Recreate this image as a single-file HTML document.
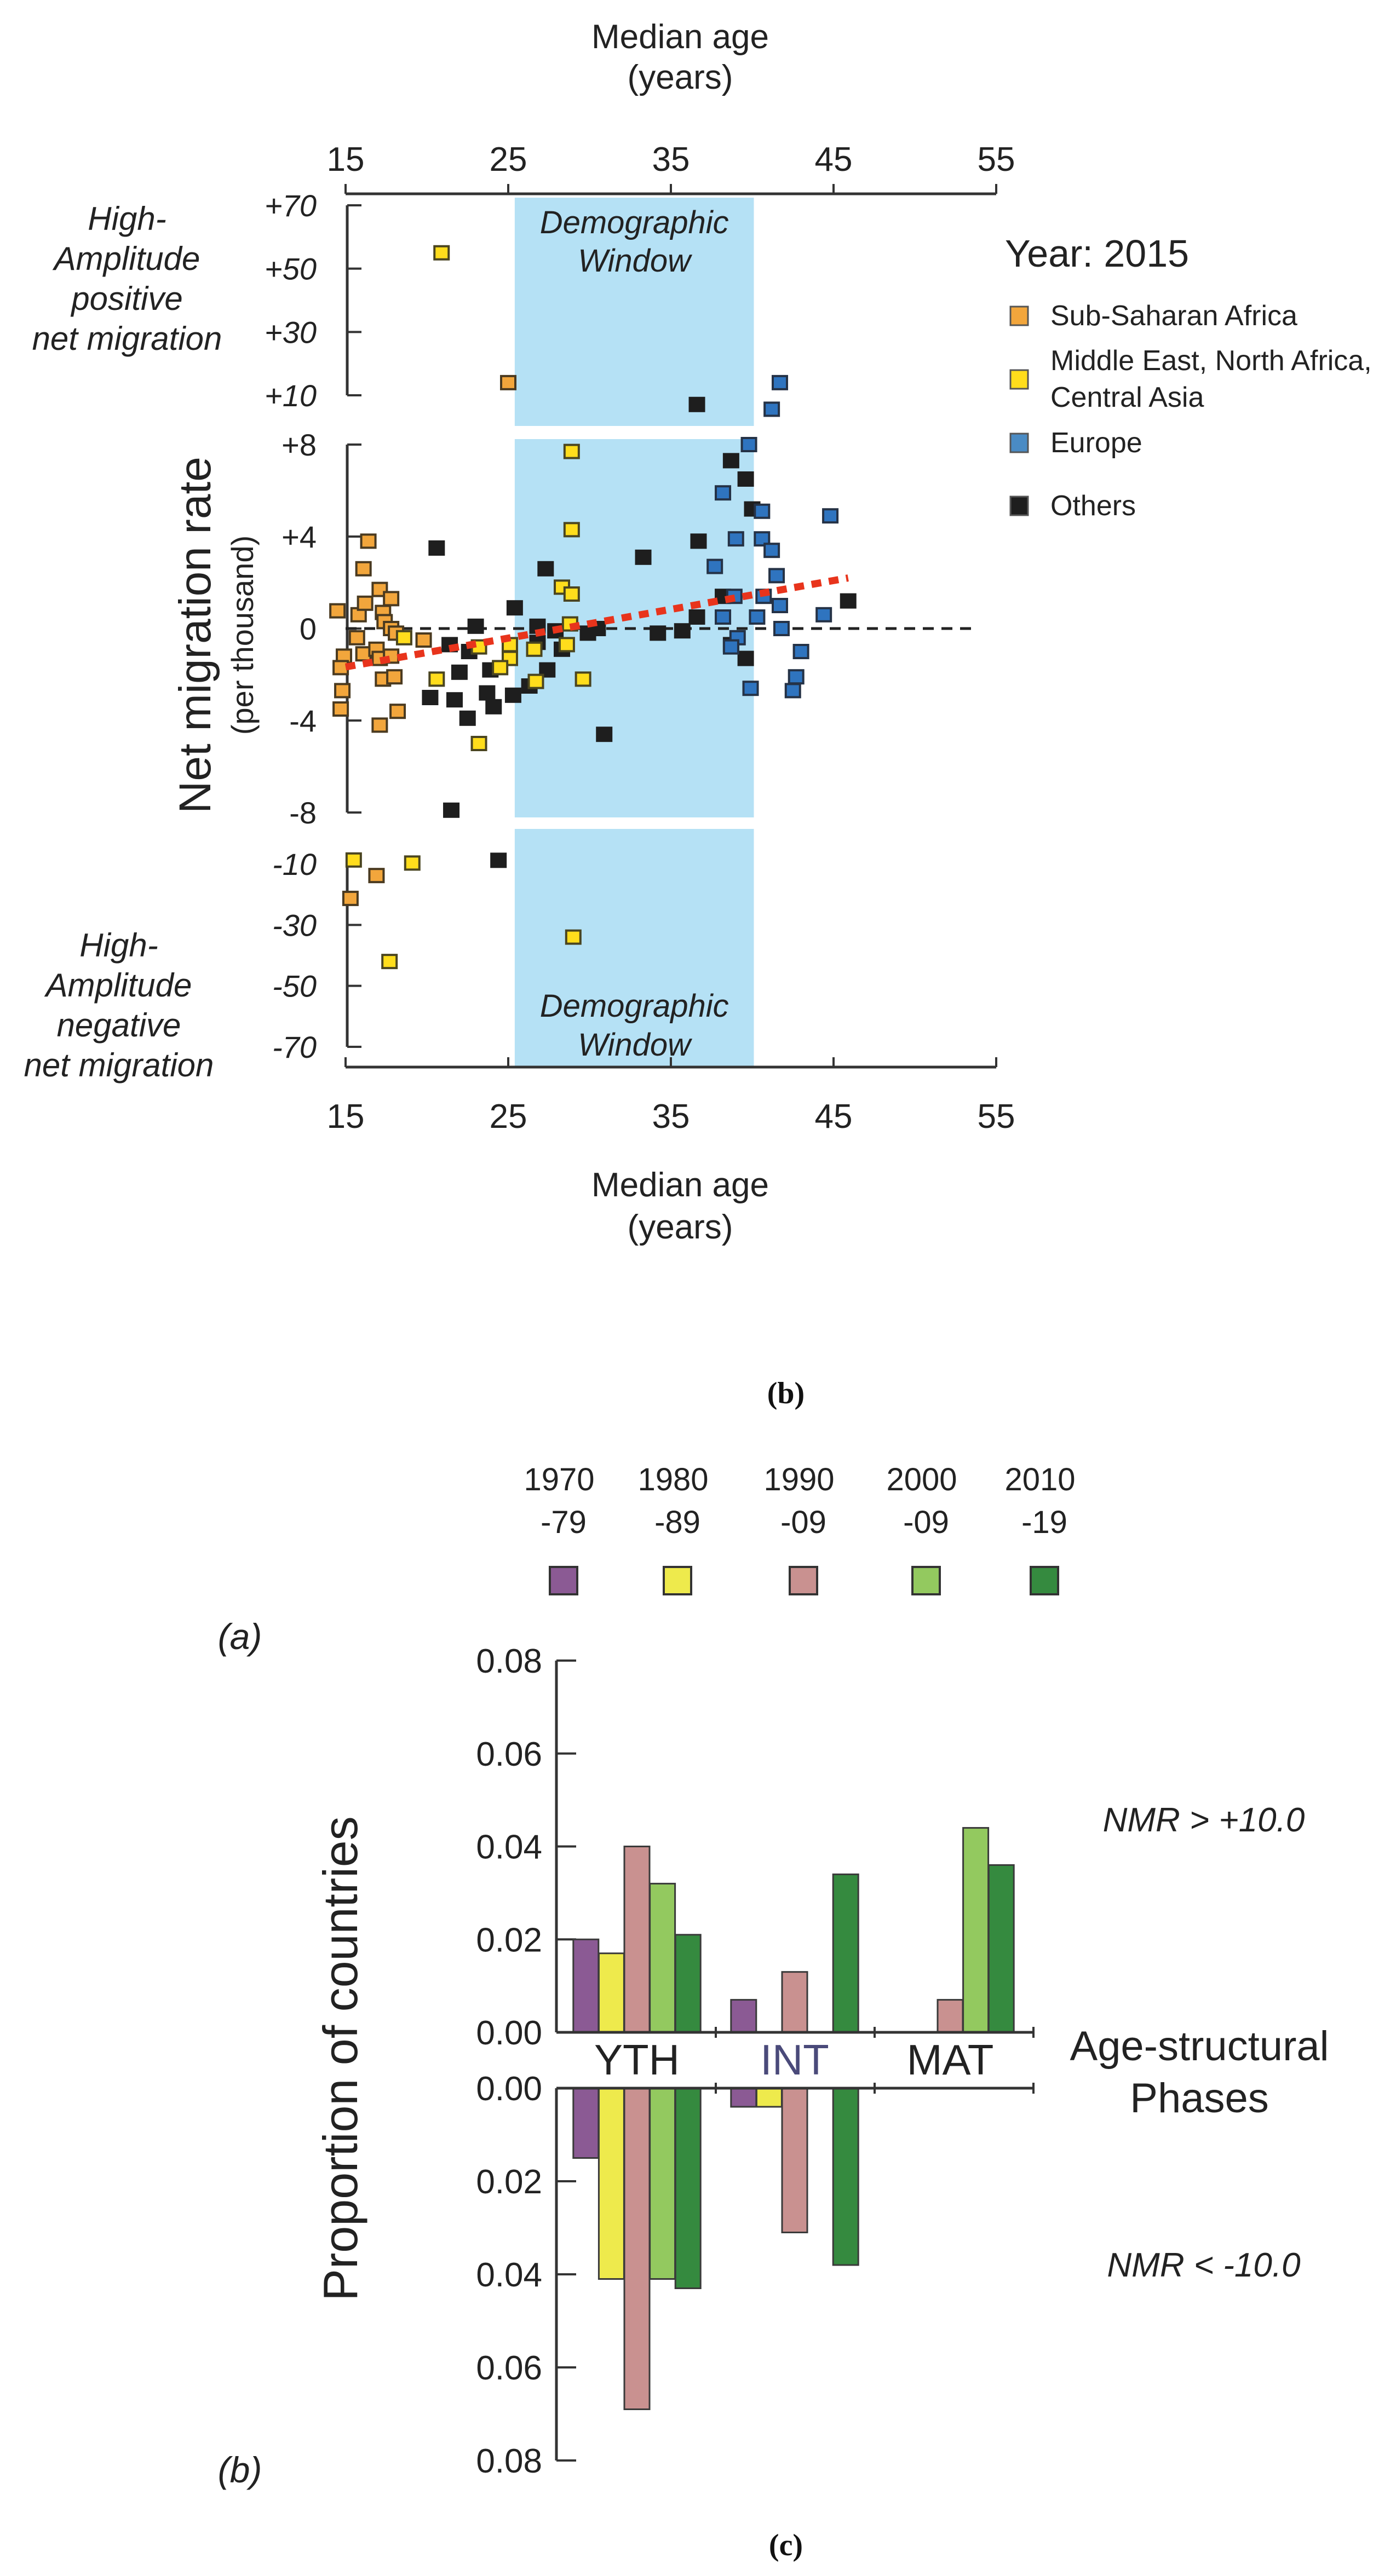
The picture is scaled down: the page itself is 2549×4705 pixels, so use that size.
<!DOCTYPE html>
<html><head><meta charset="utf-8">
<style>
html,body{margin:0;padding:0;background:#fff;}
svg{display:block;font-family:"Liberation Sans",sans-serif;}
</style></head>
<body>
<svg id="fig" width="2549" height="4705" viewBox="0 0 2549 4705" xmlns="http://www.w3.org/2000/svg">
<g id="scatter"></g>
<g id="bars"></g>
</svg>
<script>
// ---------- Scatter chart data ----------
const xTicks = [15,25,35,45,55];
const topTicks = ["+70","+50","+30","+10"];
const topTickVals = [70,50,30,10];
const midTicks = ["+8","+4","0","-4","-8"];
const midTickVals = [8,4,0,-4,-8];
const botTicks = ["-10","-30","-50","-70"];
const botTickVals = [-10,-30,-50,-70];
const regionNames = ["Sub-Saharan Africa","Middle East, North Africa,|Central Asia","Europe","Others"];
// middle panel (-8..+8)
const orangeAge = [14.5,16.4,16.1,15.8,16.2,17.1,17.8,17.3,17.4,17.8,18.1,15.7,14.9,14.7,14.8,14.7,16.1,16.9,17.1,17.8,17.3,18.0,18.2,17.1,19.8];
const orangeVal = [0.77,3.8,2.6,0.6,1.1,1.7,1.3,0.7,0.3,0,-0.2,-0.4,-1.2,-1.7,-2.7,-3.5,-1.1,-0.9,-1.3,-1.2,-2.2,-2.1,-3.6,-4.2,-0.5];
const yellowAge = [28.9,28.9,28.3,28.9,28.8,28.6,26.6,25.1,25.1,24.5,23.2,20.6,26.7,29.6,23.2,18.6];
const yellowVal = [7.7,4.3,1.8,1.5,0.2,-0.7,-0.9,-0.7,-1.3,-1.7,-0.8,-2.2,-2.3,-2.2,-5.0,-0.4];
const blueAge = [39.8,38.2,40.6,39.0,40.6,41.2,37.7,41.5,44.8,38.9,40.7,41.7,38.2,40.3,44.4,41.8,39.1,38.7,43.0,39.9,42.7,42.5];
const blueVal = [8.0,5.9,5.1,3.9,3.9,3.4,2.7,2.3,4.9,1.4,1.4,1.0,0.5,0.5,0.6,0,-0.4,-0.8,-1.0,-2.6,-2.1,-2.7];
const blackAge = [20.6,25.4,23.0,21.4,22.6,22.0,20.2,21.7,22.5,23.7,24.1,23.9,25.3,26.3,27.4,27.3,26.8,27.9,29.9,30.5,26.8,28.3,30.9,33.3,34.2,35.7,36.7,36.6,38.2,38.7,39.6,40.0,39.6,45.9,38.7,21.5];
const blackVal = [3.5,0.9,0.1,-0.7,-1.0,-1.9,-3.0,-3.1,-3.9,-2.8,-3.4,-1.8,-2.9,-2.5,-1.8,2.6,0.1,-0.1,-0.2,0,-0.6,-0.9,-4.6,3.1,-0.2,-0.1,3.8,0.5,1.4,7.3,6.5,5.2,-1.3,1.2,-0.7,-7.9];
// high-amplitude positive panel
const hiOrangeAge = [25.0];
const hiOrangeVal = [14];
const hiYellowAge = [20.9];
const hiYellowVal = [55];
const hiBlueAge = [41.7,41.2];
const hiBlueVal = [14,5.6];
const hiBlackAge = [36.6];
const hiBlackVal = [7.1];
// high-amplitude negative panel
const loOrangeAge = [16.9,15.3];
const loOrangeVal = [-13.8,-21.3];
const loYellowAge = [15.5,19.1,29.0,17.7];
const loYellowVal = [-8.7,-9.7,-34,-42];
const loBlackAge = [24.4];
const loBlackVal = [-8.8];
const trendAge = [15,45.9];
const trendVal = [-1.67,2.2];
const windowAge = [25.4,40.1];

// ---------- Bar chart data ----------
const phases = ["YTH","INT","MAT"];
const periods = ["1970|-79","1980|-89","1990|-09","2000|-09","2010|-19"];
const posVals = [[0.020,0.017,0.040,0.032,0.021],[0.007,0,0.013,0,0.034],[0,0,0.007,0.044,0.036]];
const negVals = [[0.015,0.041,0.069,0.041,0.043],[0.004,0.004,0.031,0,0.038],[0,0,0,0,0]];
const barTicks = ["0.08","0.06","0.04","0.02","0.00"];
const barTickVals = [0.08,0.06,0.04,0.02,0];

const NS="http://www.w3.org/2000/svg";
function mk(parent,tag,attrs,text){const e=document.createElementNS(NS,tag);for(const k in attrs)e.setAttribute(k,attrs[k]);if(text!==undefined)e.textContent=text;parent.appendChild(e);return e;}

const S=document.getElementById('scatter');
const xA=a=>631+(a-15)*29.7;
const yTop=v=>375+(70-v)*(722-375)/60;
const yMid=v=>1148-v*42;
const yBot=v=>1578+(-10-v)*(1912-1578)/60;

const wx0=xA(windowAge[0]), wx1=xA(windowAge[1]);
let r;
r=mk(S,'rect',{x:wx0,y:361,width:wx1-wx0,height:417,fill:'#b5e1f5'});
r=mk(S,'rect',{x:wx0,y:802,width:wx1-wx0,height:691,fill:'#b5e1f5'});
r=mk(S,'rect',{x:wx0,y:1514,width:wx1-wx0,height:435,fill:'#b5e1f5'});
let t;
t=mk(S,'text',{x:(wx0+wx1)/2,y:426,'font-size':58,'font-style':'italic','text-anchor':'middle',fill:'#222'},'Demographic');
mk(S,'text',{x:(wx0+wx1)/2,y:496,'font-size':58,'font-style':'italic','text-anchor':'middle',fill:'#222'},'Window');
t=mk(S,'text',{x:(wx0+wx1)/2,y:1857,'font-size':58,'font-style':'italic','text-anchor':'middle',fill:'#222'},'Demographic');
mk(S,'text',{x:(wx0+wx1)/2,y:1928,'font-size':58,'font-style':'italic','text-anchor':'middle',fill:'#222'},'Window');

let ax=mk(S,'g',{});
mk(ax,'line',{x1:xA(15),x2:xA(55),y1:354,y2:354,stroke:'#333','stroke-width':5});
xTicks.forEach(v=>{mk(ax,'line',{x1:xA(v),x2:xA(v),y1:354,y2:336,stroke:'#333','stroke-width':4});
 const l=mk(ax,'text',{x:xA(v),y:312,'font-size':62,'text-anchor':'middle',fill:'#222'},v);});
t=mk(S,'text',{x:1242,y:88,'font-size':62,'text-anchor':'middle',fill:'#222'},'Median age');
mk(S,'text',{x:1242,y:162,'font-size':62,'text-anchor':'middle',fill:'#222'},'(years)');
ax=mk(S,'g',{});
mk(ax,'line',{x1:xA(15),x2:xA(55),y1:1949,y2:1949,stroke:'#333','stroke-width':5});
xTicks.forEach(v=>{mk(ax,'line',{x1:xA(v),x2:xA(v),y1:1949,y2:1931,stroke:'#333','stroke-width':4});
 const l=mk(ax,'text',{x:xA(v),y:2060,'font-size':62,'text-anchor':'middle',fill:'#222'},v);});
t=mk(S,'text',{x:1242,y:2185,'font-size':62,'text-anchor':'middle',fill:'#222'},'Median age');
mk(S,'text',{x:1242,y:2262,'font-size':62,'text-anchor':'middle',fill:'#222'},'(years)');

function yPanel(name,vals,labels,fy,italic){
 const g=mk(S,'g',{});
 mk(g,'line',{x1:634,x2:634,y1:fy(vals[0]),y2:fy(vals[vals.length-1]),stroke:'#333','stroke-width':5});
 vals.forEach((v,i)=>{mk(g,'line',{x1:634,x2:660,y1:fy(v),y2:fy(v),stroke:'#333','stroke-width':4});
  const l=mk(g,'text',{x:578,y:fy(v)+20,'font-size':56,'text-anchor':'end','font-style':italic?'italic':'normal',fill:'#222'},labels[i]);
  });
}
yPanel('y-axis-top',topTickVals,topTicks,yTop,true);
yPanel('y-axis-mid',midTickVals,midTicks,yMid,false);
yPanel('y-axis-bottom',botTickVals,botTicks,yBot,true);

t=mk(S,'text',{x:0,y:0,'font-size':82,'text-anchor':'middle',fill:'#222',transform:'translate(384,1160) rotate(-90)'},'Net migration rate');
t=mk(S,'text',{x:0,y:0,'font-size':56,'text-anchor':'middle',fill:'#222',transform:'translate(462,1160) rotate(-90)'},'(per thousand)');

const posLab=["High-","Amplitude","positive","net migration"];
const negLab=["High-","Amplitude","negative","net migration"];
let sg=mk(S,'g',{});
posLab.forEach((s,i)=>mk(sg,'text',{x:232,y:420+i*73,'font-size':60,'font-style':'italic','text-anchor':'middle',fill:'#222'},s));
sg=mk(S,'g',{});
negLab.forEach((s,i)=>mk(sg,'text',{x:217,y:1747+i*73,'font-size':60,'font-style':'italic','text-anchor':'middle',fill:'#222'},s));

let z=mk(S,'line',{x1:xA(15),x2:xA(53.7),y1:yMid(0),y2:yMid(0),stroke:'#222','stroke-width':5,'stroke-dasharray':'20 14'});


function drawPts(ages,vals,fy,fill,stroke,name){
 const g=mk(S,'g',{});
 ages.forEach((a,i)=>{const p=mk(g,'rect',{x:xA(a)-13,y:fy(vals[i])-12,width:26,height:24,fill:fill,stroke:stroke,'stroke-width':4});
  });
}
const cO=['#f2a63c','#4a3a20'], cY=['#ffdd1c','#4a4520'], cB=['#2f74bf','#253246'], cK=['#1e1e1e','#1e1e1e'];
drawPts(blackAge,blackVal,yMid,cK[0],cK[1],'series-others');
drawPts(hiBlackAge,hiBlackVal,yTop,cK[0],cK[1],'series-others-high');
drawPts(loBlackAge,loBlackVal,yBot,cK[0],cK[1],'series-others-low');
drawPts(orangeAge,orangeVal,yMid,cO[0],cO[1],'series-sub-saharan-africa');
drawPts(hiOrangeAge,hiOrangeVal,yTop,cO[0],cO[1],'series-sub-saharan-africa-high');
drawPts(loOrangeAge,loOrangeVal,yBot,cO[0],cO[1],'series-sub-saharan-africa-low');
drawPts(yellowAge,yellowVal,yMid,cY[0],cY[1],'series-mena-central-asia');
drawPts(hiYellowAge,hiYellowVal,yTop,cY[0],cY[1],'series-mena-central-asia-high');
drawPts(loYellowAge,loYellowVal,yBot,cY[0],cY[1],'series-mena-central-asia-low');
drawPts(blueAge,blueVal,yMid,cB[0],cB[1],'series-europe');
drawPts(hiBlueAge,hiBlueVal,yTop,cB[0],cB[1],'series-europe-high');

z=mk(S,'line',{x1:xA(trendAge[0]),x2:xA(trendAge[1]),y1:yMid(trendVal[0]),y2:yMid(trendVal[1]),stroke:'#e8341c','stroke-width':13,'stroke-dasharray':'18 14'});


const lg=mk(S,'g',{});
mk(lg,'text',{x:1835,y:487,'font-size':70,fill:'#222'},'Year: 2015');
const legCols=['#f2a63c','#ffdd1c','#4a8bc4','#1e1e1e'];
const legY=[577,693,809,924];
regionNames.forEach((n,i)=>{
 const e=mk(lg,'g',{});
 mk(e,'rect',{x:1845,y:legY[i]-17,width:32,height:34,fill:legCols[i],stroke:'#555','stroke-width':3});
 const parts=n.split('|');
 if(parts.length==1) mk(e,'text',{x:1918,y:legY[i]+17,'font-size':52,fill:'#222'},parts[0]);
 else {mk(e,'text',{x:1918,y:legY[i]-17,'font-size':52,fill:'#222'},parts[0]);mk(e,'text',{x:1918,y:legY[i]+50,'font-size':52,fill:'#222'},parts[1]);}
});

// ---------- Bar chart ----------
const B=document.getElementById('bars');
t=mk(B,'text',{x:1435,y:2563,'font-size':56,'font-family':'Liberation Serif,serif','font-weight':'bold','text-anchor':'middle',fill:'#111'},'(b)');
t=mk(B,'text',{x:1435,y:4667,'font-size':56,'font-family':'Liberation Serif,serif','font-weight':'bold','text-anchor':'middle',fill:'#111'},'(c)');
t=mk(B,'text',{x:438,y:3012,'font-size':66,'font-style':'italic','text-anchor':'middle',fill:'#222'},'(a)');
t=mk(B,'text',{x:438,y:4534,'font-size':66,'font-style':'italic','text-anchor':'middle',fill:'#222'},'(b)');

const colors=['#8b5a94','#eeea4c','#c99190','#93c95f','#358a3f'];
const legX=[1021,1229,1459,1683,1899];
periods.forEach((p,i)=>{
 const e=mk(B,'g',{});
 const s=p.split('|');
 mk(e,'text',{x:legX[i],y:2722,'font-size':58,'text-anchor':'middle',fill:'#222'},s[0]);
 mk(e,'text',{x:legX[i]+8,y:2800,'font-size':58,'text-anchor':'middle',fill:'#222'},s[1]);
 mk(e,'rect',{x:legX[i]-17,y:2862,width:50,height:50,fill:colors[i],stroke:'#333','stroke-width':4});
});

const ax0=1016, axEnd=1887;
const yUp=v=>3712-v*(3712-3033)/0.08;
const yDn=v=>3814+v*(4494-3814)/0.08;
function barAxis(name,fy){
 const g=mk(B,'g',{});
 mk(g,'line',{x1:ax0,x2:ax0,y1:fy(0.08),y2:fy(0),stroke:'#333','stroke-width':5});
 barTickVals.forEach((v,i)=>{mk(g,'line',{x1:ax0,x2:ax0+36,y1:fy(v),y2:fy(v),stroke:'#333','stroke-width':4});
  const l=mk(g,'text',{x:990,y:fy(v)+22,'font-size':62,'text-anchor':'end',fill:'#222'},barTicks[i]);});
}
barAxis('bar-y-axis-upper',yUp);
barAxis('bar-y-axis-lower',yDn);

const groupC=[1163,1451,1735];
const step=46.6, bw=46;
function drawBars(vals,fy,name){
 const g=mk(B,'g',{});
 vals.forEach((gv,gi)=>gv.forEach((v,i)=>{
  const cx=groupC[gi]+(i-2)*step;
  const y0=fy(0), y1=fy(v);
  const b=mk(g,'rect',{x:cx-bw/2,y:Math.min(y0,y1),width:bw,height:Math.abs(y1-y0),fill:colors[i],stroke:'#3a3a3a','stroke-width':3});
  
  
 }));
}
drawBars(posVals,yUp,'bars-nmr-positive');
drawBars(negVals,yDn,'bars-nmr-negative');
[3712,3814].forEach(y=>{const l=mk(B,'line',{x1:ax0,x2:axEnd,y1:y,y2:y,stroke:'#333','stroke-width':5});
 [1307,1597,1887].forEach(x=>mk(B,'line',{x1:x,x2:x,y1:y-10,y2:y+10,stroke:'#333','stroke-width':4}));});
const phaseCol=['#222','#4a4a7a','#222'];
phases.forEach((p,i)=>{const l=mk(B,'text',{x:groupC[i],y:3789,'font-size':78,'text-anchor':'middle',fill:phaseCol[i]},p);});
t=mk(B,'text',{x:2190,y:3763,'font-size':76,'text-anchor':'middle',fill:'#222'},'Age-structural');
mk(B,'text',{x:2190,y:3858,'font-size':76,'text-anchor':'middle',fill:'#222'},'Phases');
t=mk(B,'text',{x:2198,y:3345,'font-size':62,'font-style':'italic','text-anchor':'middle',fill:'#222'},'NMR > +10.0');
t=mk(B,'text',{x:2198,y:4158,'font-size':62,'font-style':'italic','text-anchor':'middle',fill:'#222'},'NMR < -10.0');
t=mk(B,'text',{x:0,y:0,'font-size':88,'text-anchor':'middle',fill:'#222',transform:'translate(652,3760) rotate(-90)'},'Proportion of countries');
</script>
</body></html>
